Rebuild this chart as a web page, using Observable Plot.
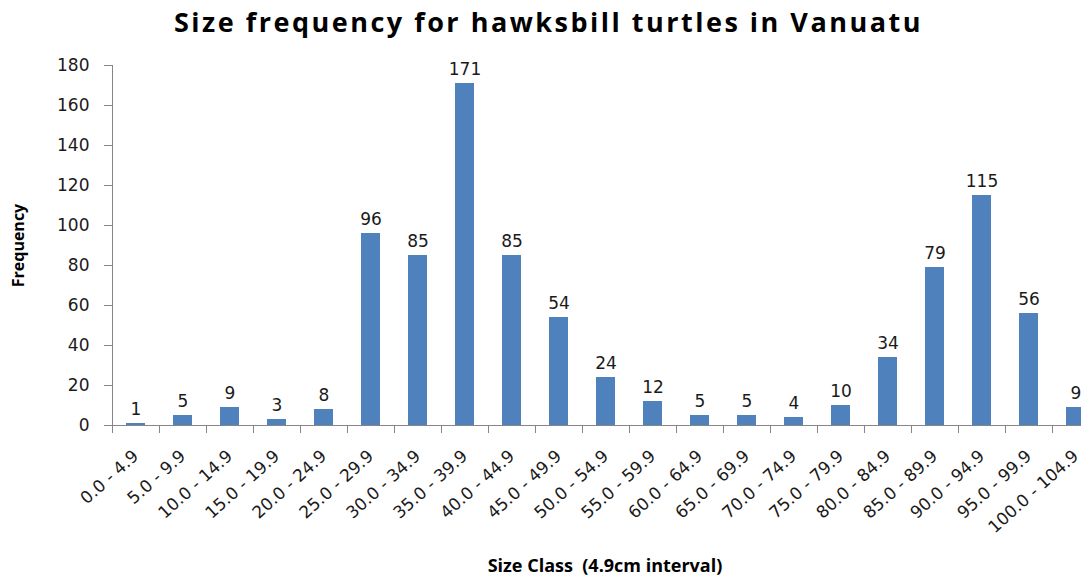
<!DOCTYPE html>
<html>
<head>
<meta charset="utf-8">
<script src="https://cdn.jsdelivr.net/npm/d3@7"></script>
<script src="https://cdn.jsdelivr.net/npm/@observablehq/plot@0.6"></script>
<style>
  html, body { margin: 0; padding: 0; background: #fff; overflow: hidden; }
  #title { height: 45px; line-height: 44px; font-family: "Open Sans", sans-serif; font-weight: bold; font-size: 27px; letter-spacing: 2.5px; text-align: center; padding-left: 16px; color: #000; white-space: nowrap; }
  #chart svg { overflow: hidden; }
</style>
</head>
<body>
<div id="title">Size frequency for hawksbill turtles in Vanuatu</div>
<div id="chart"></div>
<script>
const sizeClasses = ["0.0 - 4.9","5.0 - 9.9","10.0 - 14.9","15.0 - 19.9","20.0 - 24.9","25.0 - 29.9","30.0 - 34.9","35.0 - 39.9","40.0 - 44.9","45.0 - 49.9","50.0 - 54.9","55.0 - 59.9","60.0 - 64.9","65.0 - 69.9","70.0 - 74.9","75.0 - 79.9","80.0 - 84.9","85.0 - 89.9","90.0 - 94.9","95.0 - 99.9","100.0 - 104.9"];
const frequencies = [1,5,9,3,8,96,85,171,85,54,24,12,5,5,4,10,34,79,115,56,9];
const yTicks = [0,20,40,60,80,100,120,140,160,180];

const data = sizeClasses.map((c, i) => ({cls: c, freq: frequencies[i]}));

const numFont = "DejaVu Sans, sans-serif";
const chart = Plot.plot({
  width: 1081,
  height: 533,
  marginLeft: 112,
  marginRight: 0,
  marginTop: 20,
  marginBottom: 153,
  style: {background: "#fff", overflow: "hidden"},
  x: {domain: sizeClasses, range: [112, 1099], paddingInner: 0.6, paddingOuter: 0.3},
  y: {domain: [0, 180], ticks: yTicks},
  marks: [
    Plot.barY(data, {x: "cls", y: "freq", fill: "#4F81BD"}),
    Plot.text(data, {x: "cls", y: "freq", text: d => String(d.freq), lineAnchor: "bottom", dy: -9, fontSize: 17, fontFamily: numFont, fill: "#1a1a1a", style: "letter-spacing:1.5px"}),
    Plot.axisY({ticks: yTicks, tickSize: 8, tickPadding: 15, fontSize: 17, fontFamily: numFont, stroke: "#868686", fill: "#1a1a1a", label: null, style: "letter-spacing:2px"}),
    Plot.axisX({tickSize: 0, tickRotate: -42, tickPadding: 28, fontSize: 17, fontFamily: numFont, fill: "#1a1a1a", label: null, style: "letter-spacing:0.6px"}),
    Plot.ruleX(sizeClasses, {x: d => d, dx: -23.5, y1: 0, y2: -4, stroke: "#868686"}),
    Plot.ruleY([0], {stroke: "#868686"}),
    Plot.frame({anchor: "left", stroke: "#868686"}),
    Plot.text(["Frequency"], {frameAnchor: "left", textAnchor: "middle", rotate: -90, dx: -94, fontSize: 16, fontWeight: "bold", fontFamily: "Open Sans, sans-serif", fill: "#000", style: "letter-spacing:0.6px"}),
    Plot.text(["Size Class  (4.9cm interval)"], {frameAnchor: "bottom", dy: 146, dx: 8, fontSize: 18, fontWeight: "bold", fontFamily: "Open Sans, sans-serif", fill: "#000", style: "white-space:pre;letter-spacing:2.3px"})
  ]
});
document.getElementById("chart").appendChild(chart);
</script>
</body>
</html>
